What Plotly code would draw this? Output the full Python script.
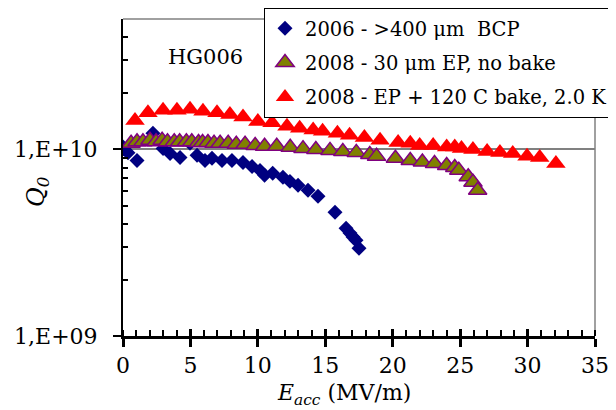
import plotly.graph_objects as go

# ---- data ----
bcp_e = [0.0, 0.37, 1.04, 2.22, 2.97, 3.49, 4.23, 4.97, 5.49, 6.08, 6.6, 7.34, 8.08, 8.9,
         9.57, 10.16, 10.5, 11.1, 11.86, 12.38, 12.98, 13.72, 14.46, 15.72, 16.54, 16.83,
         17.06, 17.28, 17.5]
bcp_q = [1.03e10, 0.96e10, 0.873e10, 1.22e10, 1.01e10, 0.95e10, 0.906e10, 1.08e10, 0.93e10,
         0.873e10, 0.896e10, 0.873e10, 0.873e10, 0.851e10, 0.81e10, 0.772e10, 0.727e10,
         0.745e10, 0.709e10, 0.674e10, 0.642e10, 0.604e10, 0.561e10, 0.461e10, 0.378e10,
         0.356e10, 0.339e10, 0.326e10, 0.295e10]

ep_e = [0.6, 1.04, 1.48, 2.0, 2.45, 2.9, 3.3, 3.8, 4.2, 4.7, 5.1, 5.6, 5.9, 6.3, 6.75, 7.2,
        7.8, 8.4, 9.05, 9.8, 10.5, 11.4, 12.4, 13.35, 14.3, 15.35, 16.3, 17.3, 18.3, 18.8,
        20.2, 21.3, 22.2, 23.1, 24.0, 24.6, 24.9, 25.6, 25.95, 26.3]
ep_q = [1.08e10, 1.10e10, 1.10e10, 1.12e10, 1.10e10, 1.12e10, 1.10e10, 1.10e10, 1.10e10,
        1.10e10, 1.10e10, 1.09e10, 1.09e10, 1.09e10, 1.08e10, 1.08e10, 1.08e10, 1.065e10,
        1.065e10, 1.05e10, 1.04e10, 1.04e10, 1.026e10, 1.01e10, 1.0e10, 0.988e10, 0.975e10,
        0.964e10, 0.94e10, 0.918e10, 0.896e10, 0.873e10, 0.857e10, 0.841e10, 0.82e10,
        0.80e10, 0.773e10, 0.713e10, 0.667e10, 0.604e10]

bake_e = [0.89, 1.85, 2.97, 4.0, 4.97, 5.93, 6.97, 7.93, 8.9, 10.0, 11.05, 12.16, 13.1, 14.1,
          14.8, 15.9, 16.8, 17.9, 19.06, 20.4, 21.3, 22.0, 23.0, 24.0, 24.6, 25.1, 25.95,
          27.0, 27.95, 28.9, 29.96, 30.9, 32.1]
bake_q = [1.43e10, 1.57e10, 1.62e10, 1.62e10, 1.64e10, 1.60e10, 1.57e10, 1.54e10, 1.49e10,
          1.41e10, 1.39e10, 1.33e10, 1.30e10, 1.27e10, 1.25e10, 1.22e10, 1.19e10, 1.16e10,
          1.12e10, 1.09e10, 1.08e10, 1.05e10, 1.05e10, 1.03e10, 1.03e10, 1.01e10, 1.0e10,
          0.975e10, 0.964e10, 0.95e10, 0.92e10, 0.906e10, 0.84e10]

names = ["2006 - >400 μm\u00a0 BCP", "2008 - 30 μm EP, no bake", "2008 - EP + 120 C bake, 2.0 K"]
x_ticks = [0, 5, 10, 15, 20, 25, 30, 35]
y_tickvals = [1e9, 1e10]
y_ticktext = ["1,E+09", "1,E+10"]
y_minor = [2e9, 3e9, 4e9, 5e9, 6e9, 7e9, 8e9, 9e9, 2e10, 3e10, 4e10]

FONT = "DejaVu Serif"

# page body has an 8px margin: the figure is sized/placed to compensate
OFF = 8
W, H = 616 - OFF, 410 - OFF
L, T = 123 - OFF, 19 - OFF
R = W - (595 - OFF)
B = H - (336 - OFF)
PW, PH = 595 - 123, 336 - 19


def px(xp):
    return (xp - 123) / PW


def py(yp):
    return (336 - yp) / PH


fig = go.Figure()
fig.add_trace(go.Scatter(x=bcp_e, y=bcp_q, mode="markers", name=names[0], legendgroup="a",
                         marker=dict(symbol="diamond", size=11.5, color="#000080",
                                     line=dict(width=0))))
fig.add_trace(go.Scatter(x=ep_e, y=ep_q, mode="markers", name=names[1], legendgroup="b",
                         marker=dict(symbol="triangle-up", size=16, color="#808000",
                                     line=dict(width=1.5, color="#800080"))))
fig.add_trace(go.Scatter(x=bake_e, y=bake_q, mode="markers", name=names[2], legendgroup="c",
                         marker=dict(symbol="triangle-up", size=17, color="#FF0000",
                                     line=dict(width=0))))

# empty trace on an overlay axis so that the crossing major x ticks are drawn
fig.add_trace(go.Scatter(x=[], y=[], xaxis="x2", showlegend=False, hoverinfo="skip"))

fig.update_layout(
    width=W, height=H,
    margin=dict(l=L, r=R, t=T, b=B, pad=0, autoexpand=False),
    paper_bgcolor="white", plot_bgcolor="white",
    font=dict(family=FONT, size=22, color="black"),
    showlegend=True,
    legend=dict(x=px(264), y=py(8), xanchor="left", yanchor="top",
                bgcolor="white", bordercolor="black", borderwidth=1,
                font=dict(family=FONT, size=19.5, color="black"),
                tracegroupgap=6, itemwidth=30),
    xaxis=dict(range=[0, 35], tickvals=x_ticks, ticks="outside", ticklen=8, tickwidth=2.5,
               tickcolor="black", showline=True, linecolor="black", linewidth=2.5,
               showgrid=False, zeroline=False,
               tickfont=dict(family=FONT, size=22),
               minor=dict(dtick=1, ticks="inside", ticklen=6, tickwidth=2, tickcolor="black",
                          showgrid=False)),
    xaxis2=dict(range=[0, 35], overlaying="x", tickvals=x_ticks, ticks="inside", ticklen=7,
                tickwidth=2.5, tickcolor="black", showticklabels=False, showline=False,
                showgrid=False, zeroline=False, side="bottom", anchor="y"),
    yaxis=dict(type="log", range=[9, 10.699], tickvals=y_tickvals, ticktext=y_ticktext,
               ticks="outside", ticklen=8, tickwidth=2, tickcolor="black",
               showline=True, linecolor="black", linewidth=2,
               showgrid=True, gridcolor="#808080", gridwidth=1.5, zeroline=False,
               ticklabelstandoff=11, tickfont=dict(family=FONT, size=22),
               minor=dict(tickvals=y_minor, ticks="inside", ticklen=5, tickwidth=1.5,
                          tickcolor="black", showgrid=False)),
    shapes=[
        dict(type="line", xref="paper", yref="paper", x0=0, x1=1, y0=1, y1=1,
             line=dict(color="#808080", width=1.5), layer="below"),
        dict(type="line", xref="paper", yref="paper", x0=1, x1=1, y0=0, y1=1,
             line=dict(color="#808080", width=1.5), layer="below"),
    ],
    annotations=[
        dict(text="HG006", xref="paper", yref="paper", x=px(205), y=py(57),
             showarrow=False, xanchor="center", yanchor="middle",
             font=dict(family=FONT, size=21)),
        dict(text="<i>E</i><sub><i>acc</i></sub> (MV/m)", xref="paper", yref="paper",
             x=px(344), y=py(394), showarrow=False,
             xanchor="center", yanchor="middle", font=dict(family=FONT, size=22)),
        dict(text="<i>Q</i><sub><i>0</i></sub>", xref="paper", yref="paper",
             x=px(38), y=py(192), showarrow=False, textangle=-90,
             xanchor="center", yanchor="middle", font=dict(family=FONT, size=24)),
    ],
)

fig.write_html("out.html")
